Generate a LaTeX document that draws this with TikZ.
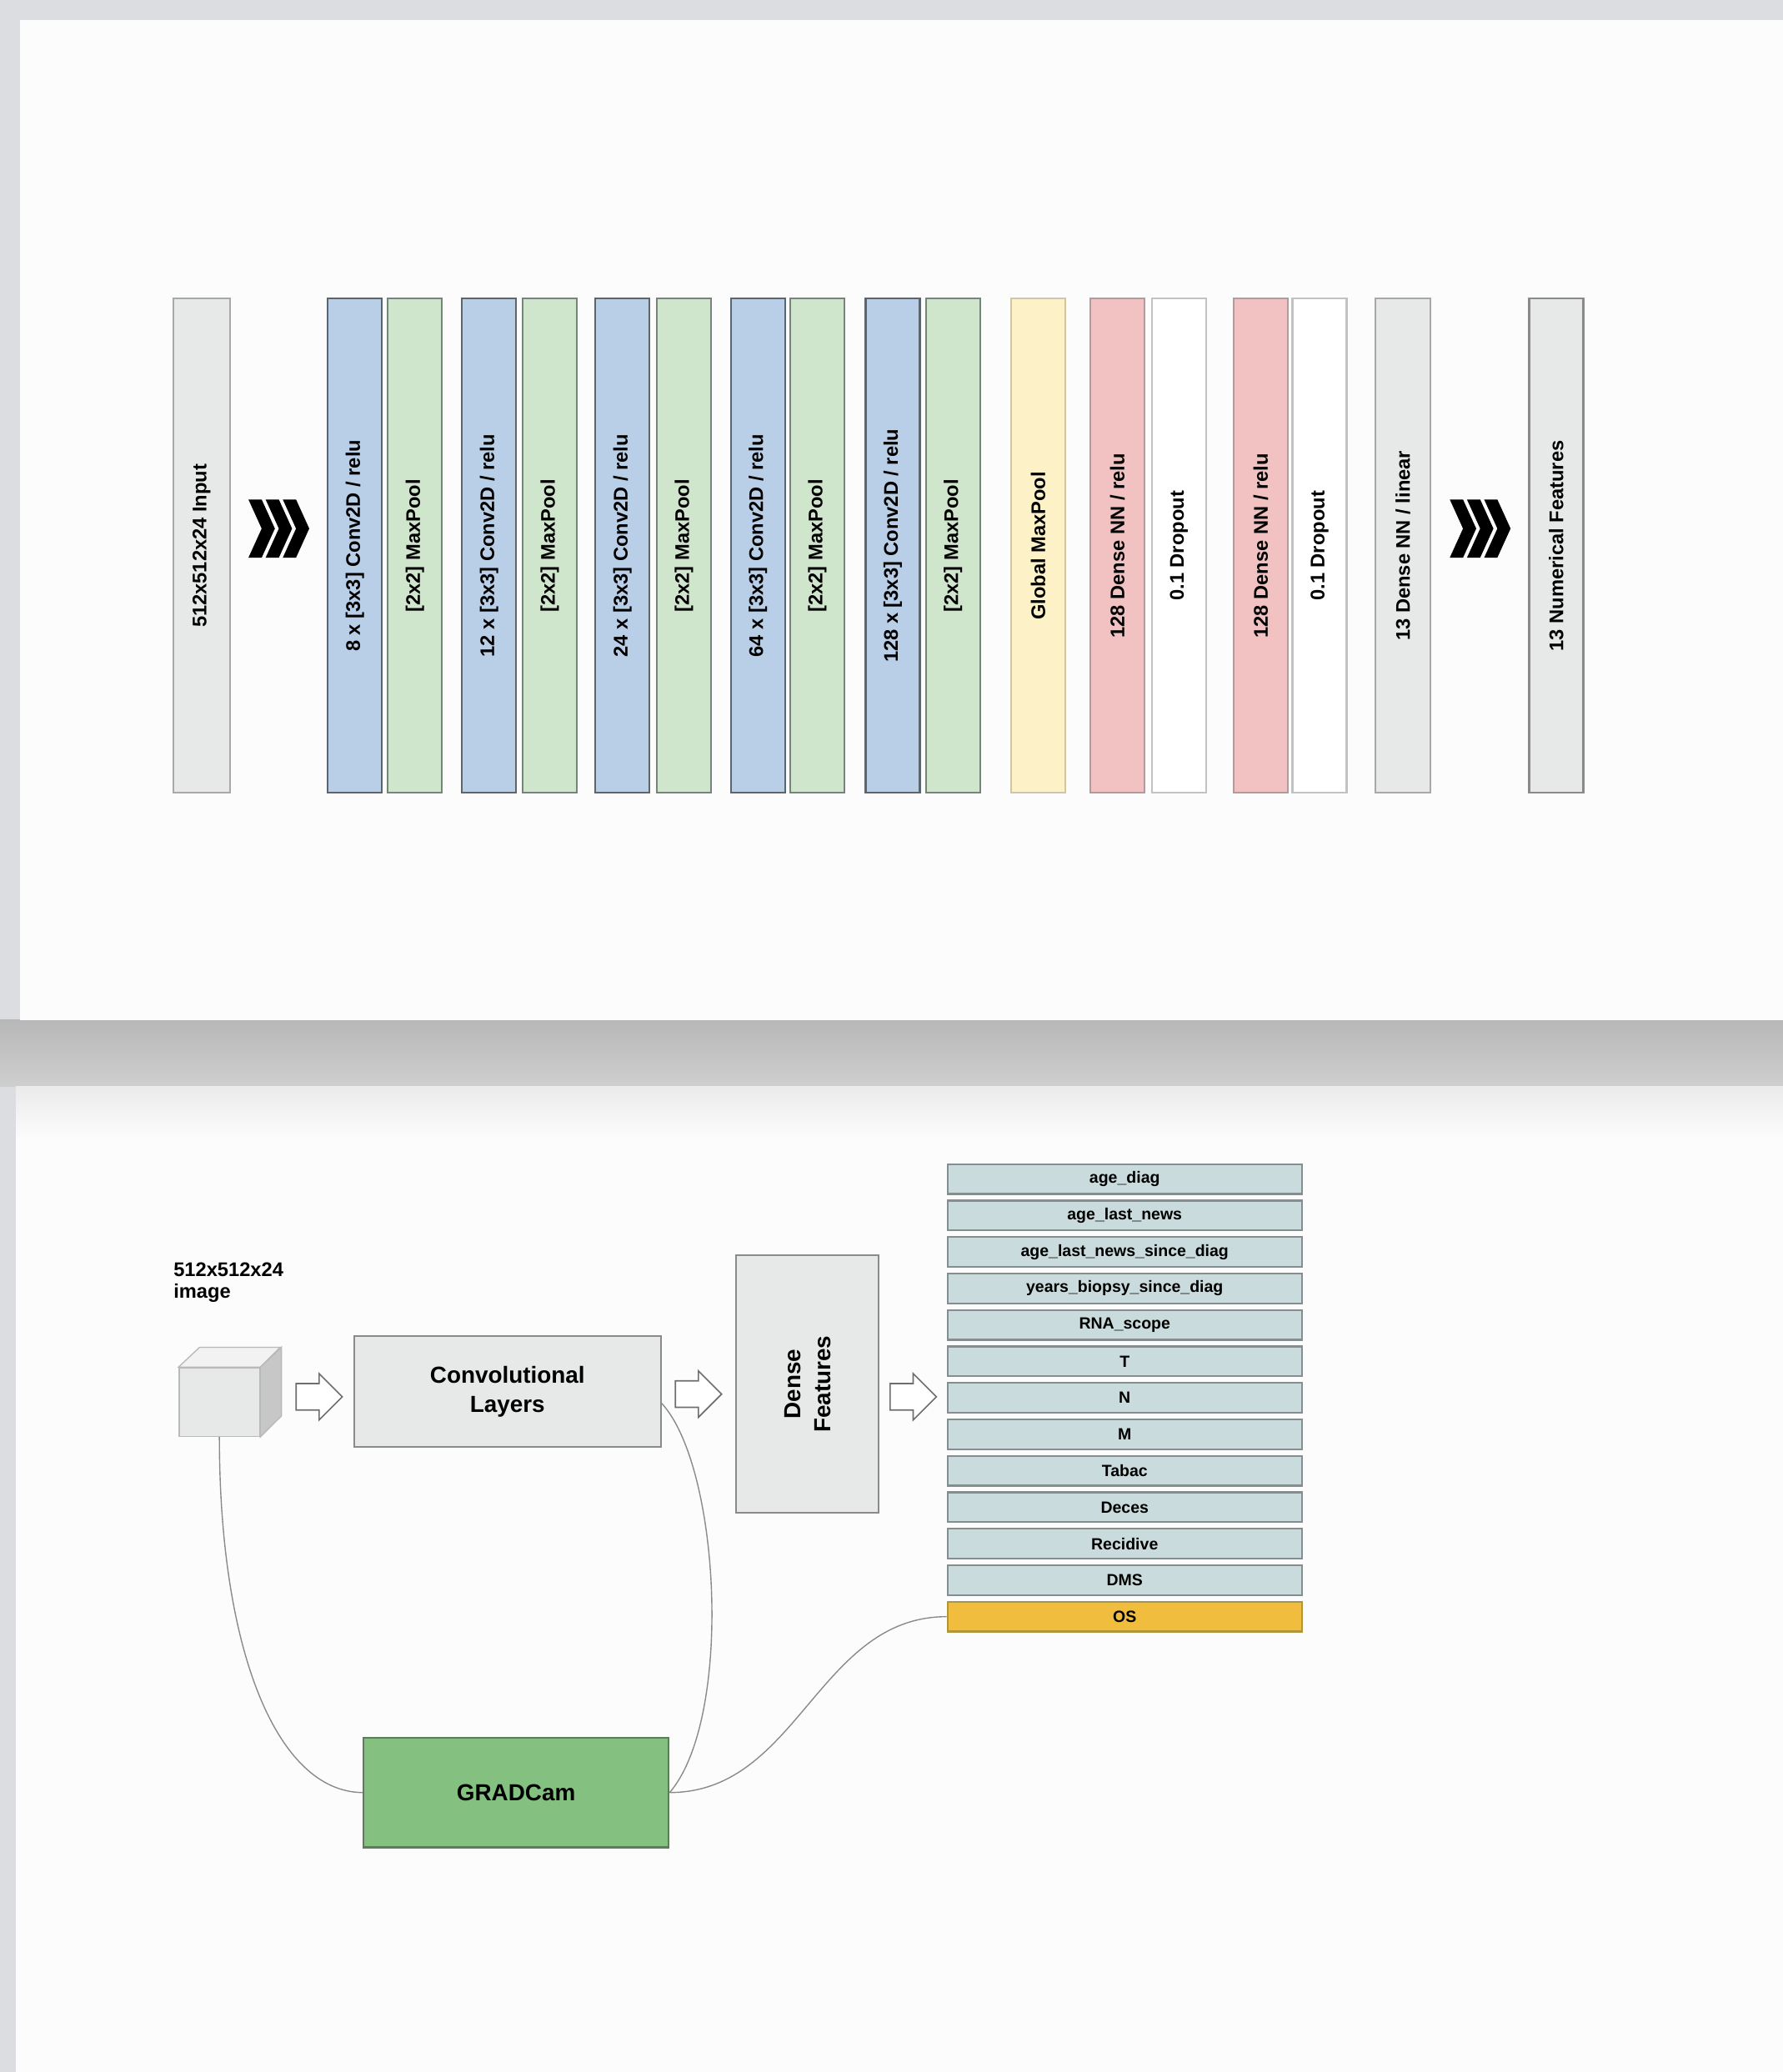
\documentclass[tikz,border=0pt]{standalone}
\usepackage{fontspec}
\setmainfont{Liberation Sans}
\usetikzlibrary{shapes.arrows}
\definecolor{bggray}{HTML}{DCDDE0}
\definecolor{panel}{HTML}{FCFCFC}
\definecolor{cb}{HTML}{B9CFE8}
\definecolor{cbd}{HTML}{5B6570}
\definecolor{pg}{HTML}{CFE5CC}
\definecolor{pgd}{HTML}{76857A}
\definecolor{lg}{HTML}{E7E8E8}
\definecolor{lgd}{HTML}{A8A8A8}
\definecolor{gy}{HTML}{FDF1C7}
\definecolor{gyd}{HTML}{CFC6A6}
\definecolor{dr}{HTML}{F2C1C1}
\definecolor{drd}{HTML}{B89898}
\definecolor{fb}{HTML}{C9DBDC}
\definecolor{fbd}{HTML}{858D8E}
\definecolor{os}{HTML}{F0BD3E}
\definecolor{osd}{HTML}{B0963A}
\definecolor{gc}{HTML}{84C07F}
\definecolor{gcd}{HTML}{5F7A5C}
\definecolor{wire}{HTML}{8A8A8A}
\newcommand{\chevrons}[1]{
\begin{scope}[shift={#1}]
\fill (0,-22) -- (10,-22) -- (20,0) -- (10,22) -- (0,22) -- (10,0) -- cycle;
\fill (13,-22) -- (23,-22) -- (33,0) -- (23,22) -- (13,22) -- (23,0) -- cycle;
\fill (26,-22) -- (36,-22) -- (46,0) -- (36,22) -- (26,22) -- (36,0) -- cycle;
\end{scope}
}
\tikzset{
layer/.style={rotate=90,minimum width=74.8mm,minimum height=8.2mm,inner sep=0pt,line width=0.8pt,font=\fontsize{8.5}{10}\selectfont\bfseries},
inlayer/.style={layer,fill=lg,draw=lgd,minimum height=8.6mm},
conv/.style={layer,fill=cb,draw=cbd},
pool/.style={layer,fill=pg,draw=pgd},
gpool/.style={layer,fill=gy,draw=gyd},
dense/.style={layer,fill=dr,draw=drd},
drop/.style={layer,fill=white,draw=lgd!70},
graybox/.style={fill=lg,draw=wire,line width=0.8pt,inner sep=0pt,align=center,font=\fontsize{10}{12.5}\selectfont\bfseries},
feat/.style={fill=fb,draw=fbd,line width=0.8pt,minimum width=53.6mm,minimum height=4.5mm,inner sep=0pt,font=\fontsize{7}{8}\selectfont\bfseries},
hollow/.style={single arrow,draw=wire!80!black,fill=white,line width=0.6pt,minimum height=7mm,inner xsep=0pt,inner ysep=1.9mm,single arrow head extend=1.5mm},
wirecurve/.style={draw=wire,line width=0.5pt}
}

\begin{document}
\begin{tikzpicture}[x=0.2mm,y=-0.2mm]
\useasboundingbox (0,0) rectangle (1349,1568);
% backdrop and the two panels
\fill[bggray] (0,0) rectangle (1349,1568);
\shade[top color=black!28,bottom color=black!19] (0,772) rectangle (1349,822);
\fill[panel] (15,15) rectangle (1349,772);
\fill[panel] (12,822) rectangle (1349,1568);
\shade[top color=black!8,bottom color=panel] (12,822) rectangle (1349,862);

% network layers
\node[inlayer] (input) at (152.5,413) {512x512x24 Input};
\chevrons{(188,400)};
\node[conv] (c1) at (268.5,413) {8 x [3x3] Conv2D / relu};
\node[pool] (p1) at (314,413) {[2x2] MaxPool};
\node[conv] (c2) at (370,413) {12 x [3x3] Conv2D / relu};
\node[pool] (p2) at (416,413) {[2x2] MaxPool};
\node[conv] (c3) at (471,413) {24 x [3x3] Conv2D / relu};
\node[pool] (p3) at (517.5,413) {[2x2] MaxPool};
\node[conv] (c4) at (573.5,413) {64 x [3x3] Conv2D / relu};
\node[pool] (p4) at (618.5,413) {[2x2] MaxPool};
\node[conv] (c5) at (675.5,413) {128 x [3x3] Conv2D / relu};
\node[pool] (p5) at (721,413) {[2x2] MaxPool};
\node[gpool] (gmp) at (785.5,413) {Global MaxPool};
\node[dense] (d1) at (845.5,413) {128 Dense NN / relu};
\node[drop] (o1) at (892,413) {0.1 Dropout};
\node[dense] (d2) at (954,413) {128 Dense NN / relu};
\node[drop] (o2) at (998.5,413) {0.1 Dropout};
\node[inlayer,minimum height=8.4mm] (lin) at (1061.5,413) {13 Dense NN / linear};
\chevrons{(1097,400)};
\node[inlayer,draw=wire,minimum height=8.2mm] (out) at (1177.5,413) {13 Numerical Features};

% pipeline
\node[anchor=north west,inner sep=0pt,align=left,font=\fontsize{8.5}{9.5}\selectfont\bfseries] (imglabel) at (131,955) {512x512x24\\image};
\node[fill=lg,draw=lgd!80,line width=0.5pt,minimum width=12.2mm,minimum height=10.4mm,inner sep=0pt] (cube) at (166,1061) {};
\filldraw[fill=black!5,draw=lgd!80,line width=0.5pt] (cube.north west) -- ++(16,-15) -- ++(61,0) -- (cube.north east) -- cycle;
\filldraw[fill=black!22,draw=lgd!80,line width=0.5pt] (cube.north east) -- ++(16,-15) -- ++(0,52) -- (cube.south east) -- cycle;
\node[hollow] (a1) at (236.5,1057) {};
\node[graybox,minimum width=46.4mm,minimum height=16.8mm] (conv) at (384,1053) {Convolutional\\Layers};
\node[hollow] (a2) at (523.5,1055) {};
\node[graybox,rotate=90,minimum width=39mm,minimum height=21.6mm,font=\fontsize{10}{13}\selectfont\bfseries] (densef) at (611,1047.5) {Dense\\Features};
\node[hollow] (a3) at (686,1057) {};

\node[feat] (f1) at (851,892.2) {age\_diag};
\node[feat] (f2) at (851,919.8) {age\_last\_news};
\node[feat] (f3) at (851,947.4) {age\_last\_news\_since\_diag};
\node[feat] (f4) at (851,975.0) {years\_biopsy\_since\_diag};
\node[feat] (f5) at (851,1002.6) {RNA\_scope};
\node[feat] (f6) at (851,1030.2) {T};
\node[feat] (f7) at (851,1057.8) {N};
\node[feat] (f8) at (851,1085.4) {M};
\node[feat] (f9) at (851,1113.0) {Tabac};
\node[feat] (f10) at (851,1140.6) {Deces};
\node[feat] (f11) at (851,1168.2) {Recidive};
\node[feat] (f12) at (851,1195.8) {DMS};
\node[feat,fill=os,draw=osd] (fos) at (851,1223.4) {OS};

\node[fill=gc,draw=gcd,line width=0.8pt,minimum width=46.2mm,minimum height=16.6mm,font=\fontsize{10}{12}\selectfont\bfseries] (grad) at (390.5,1356.5) {GRADCam};

\draw[wirecurve] (cube.south) .. controls (166,1250) and (210,1356) .. (grad.west);
\draw[wirecurve] ([yshift=-1.8mm]conv.east) .. controls (545,1110) and (555,1300) .. (grad.east);
\draw[wirecurve] (fos.west) to[out=180,in=0] (grad.east);
\end{tikzpicture}
\end{document}
